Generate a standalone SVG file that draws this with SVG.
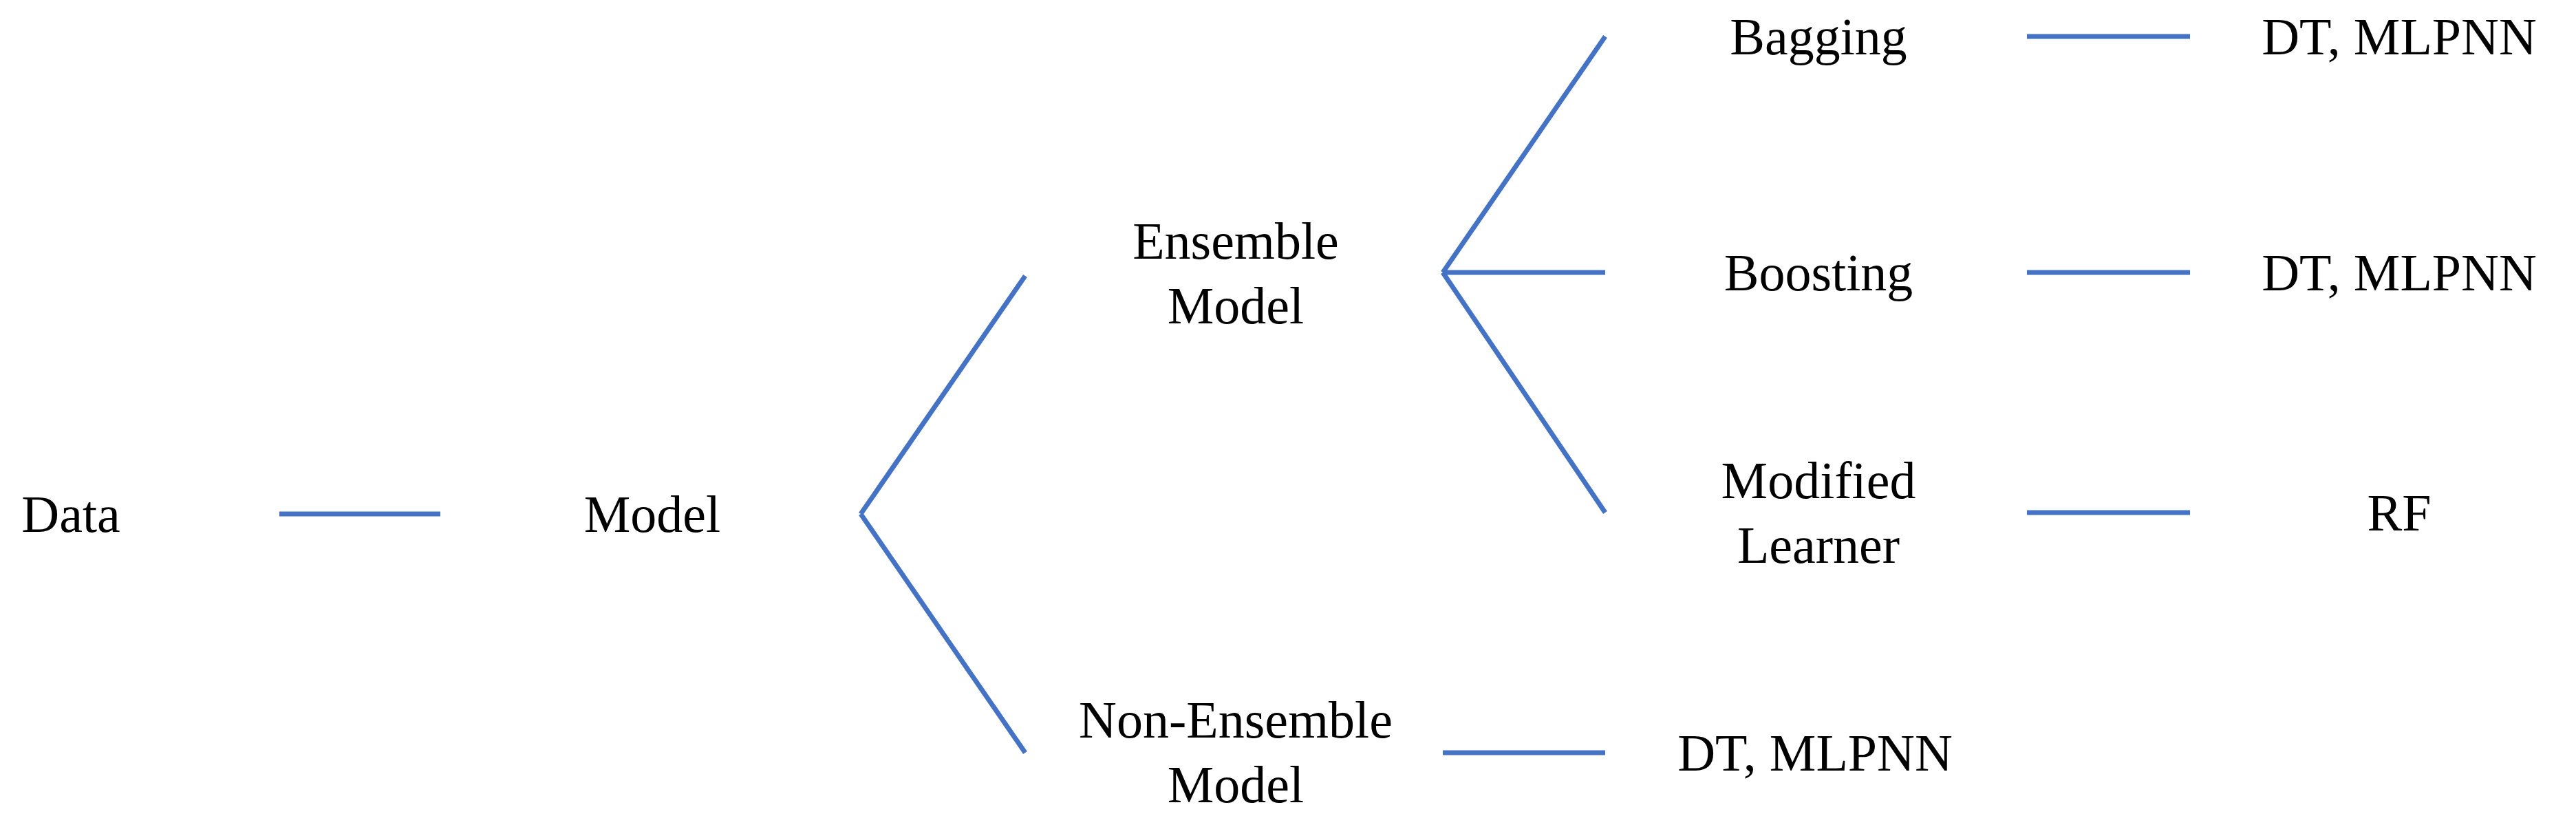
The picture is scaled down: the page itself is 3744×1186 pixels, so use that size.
<svg xmlns="http://www.w3.org/2000/svg" width="3744" height="1186" viewBox="0 0 3744 1186">
<style>
text{font-family:"Liberation Serif","Times New Roman",serif;font-size:76px;fill:#000;text-anchor:middle;dominant-baseline:central}
.c line{stroke:#4472C4;stroke-width:7;fill:none}
</style>
<rect width="3744" height="1186" fill="#fff"/>
<g class="c" id="connectors">
<line x1="406" y1="747" x2="640" y2="747"/>
<line x1="1251" y1="747" x2="1490" y2="401"/>
<line x1="1251" y1="747" x2="1490" y2="1094"/>
<line x1="2097" y1="396" x2="2333" y2="53"/>
<line x1="2097" y1="396" x2="2333" y2="396"/>
<line x1="2097" y1="396" x2="2333" y2="745"/>
<line x1="2946" y1="53" x2="3183" y2="53"/>
<line x1="2946" y1="396" x2="3183" y2="396"/>
<line x1="2946" y1="745" x2="3183" y2="745"/>
<line x1="2097" y1="1094" x2="2333" y2="1094"/>
</g>
<g id="data"><text x="103" y="747">Data</text></g>
<g id="model"><text x="948" y="747">Model</text></g>
<g id="ensemble"><text x="1796" y="350">Ensemble</text><text x="1796" y="444">Model</text></g>
<g id="nonensemble"><text x="1796" y="1046">Non-Ensemble</text><text x="1796" y="1140">Model</text></g>
<g id="bagging"><text x="2643" y="53">Bagging</text></g>
<g id="boosting"><text x="2643" y="396">Boosting</text></g>
<g id="modified"><text x="2643" y="698">Modified</text><text x="2643" y="792">Learner</text></g>
<g id="dt1"><text x="3487" y="53">DT, MLPNN</text></g>
<g id="dt2"><text x="3487" y="396">DT, MLPNN</text></g>
<g id="rf"><text x="3487" y="745">RF</text></g>
<g id="dt3"><text x="2638" y="1094">DT, MLPNN</text></g>
</svg>
